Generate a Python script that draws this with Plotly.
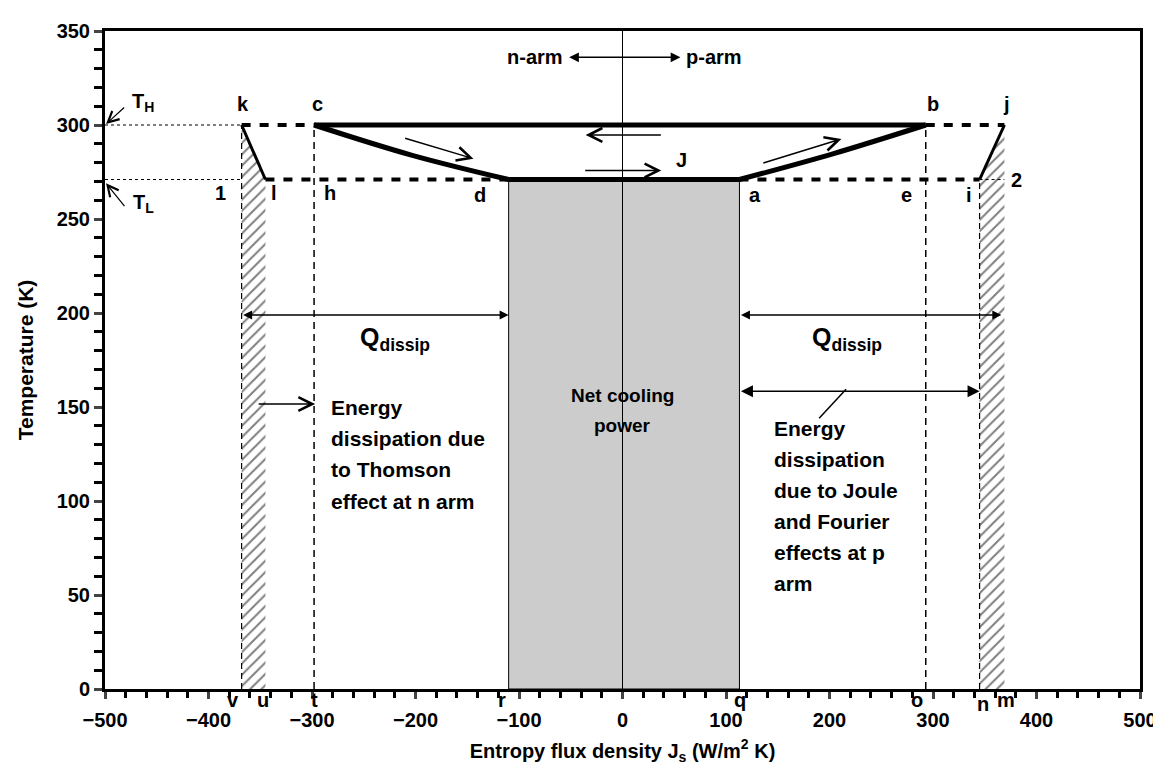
import plotly.graph_objects as go

# ---- data ----
T_H = 300
T_L = 271
# entropy-flux positions of the lettered points
x_v, x_u, x_t, x_r = -368, -345, -298, -110
x_q, x_o, x_n, x_m = 113, 293, 345, 369
# curved segments c->d (n arm) and a->b (p arm)
cd_x = [-298, -204, -110]
cd_T = [300, 284.0, 271]
ab_x = [113, 204, 293]
ab_T = [271, 284.8, 300]

x_ticks = [-500, -400, -300, -200, -100, 0, 100, 200, 300, 400, 500]
y_ticks = [0, 50, 100, 150, 200, 250, 300, 350]

point_labels = ["v", "u", "t", "r", "q", "o", "n", "m"]
point_label_x = [-376, -347, -298, -116, 113.5, 285, 348, 371]
point_label_shift = [-11, -11, -11, -11, -11, -11, -15, -11]

top_labels = ["k", "c", "b", "j", "1", "l", "h", "d", "a", "e", "i", "2"]
top_label_x = [-367, -295, 300, 371, -388, -336.5, -283, -138, 128, 274, 334.5, 381]
top_label_T = [311, 311, 311, 311, 264, 264, 264, 263, 263, 263, 263, 271]

left_text = ["Energy", "dissipation due", "to Thomson", "effect at n arm"]
left_text_T = [149.5, 133, 116.5, 100]
right_text = ["Energy", "dissipation", "due to Joule", "and Fourier", "effects at p", "arm"]
right_text_T = [138.5, 122, 105.5, 89, 72.5, 56]
center_text = ["Net cooling", "power"]
center_text_T = [156, 140]

FONT = "Liberation Sans, Arial, sans-serif"
NARROW = "Liberation Sans Narrow, Arial Narrow, Liberation Sans, sans-serif"
fig = go.Figure()

def line(xs, ys, width=1.0, dash="solid", color="black", shape="linear"):
    fig.add_trace(go.Scatter(x=xs, y=ys, mode="lines", hoverinfo="skip",
                             line=dict(color=color, width=width, dash=dash, shape=shape),
                             showlegend=False))

# net cooling power (grey block)
fig.add_trace(go.Scatter(x=[x_r, x_q, x_q, x_r, x_r], y=[0, 0, T_L, T_L, 0],
                         fill="toself", fillcolor="#cccccc", mode="lines",
                         line=dict(color="black", width=1), showlegend=False, hoverinfo="skip"))
# hatched dissipation strips
hatch = dict(shape="/", size=8, solidity=0.25, fgcolor="black", bgcolor="white")
fig.add_trace(go.Scatter(x=[x_v, x_u, x_u, x_v, x_v], y=[0, 0, T_L, T_H, 0],
                         fill="toself", fillcolor="white", fillpattern=hatch, mode="lines",
                         line=dict(width=0, color="rgba(0,0,0,0)"), showlegend=False, hoverinfo="skip"))
fig.add_trace(go.Scatter(x=[x_n, x_m, x_m, x_n, x_n], y=[0, 0, T_H, T_L, 0],
                         fill="toself", fillcolor="white", fillpattern=hatch, mode="lines",
                         line=dict(width=0, color="rgba(0,0,0,0)"), showlegend=False, hoverinfo="skip"))
# strip borders
line([x_v, x_v], [0, T_H], 1.2, "6px,4px")
line([x_n, x_n], [0, T_L], 1.2, "6px,4px")

# centre line
line([0, 0], [0, 350], 1)
# dashed verticals through c and b
line([x_t, x_t], [0, T_H], 1.5, "7px,5px")
line([x_o, x_o], [0, T_H], 1.5, "7px,5px")

# thin dotted reference lines
line([-500, x_v], [T_H, T_H], 1, "dot")
line([-500, x_v], [T_L, T_L], 1, "dot")
line([x_n, x_m], [T_L, T_L], 1, "dot")

# thick dashed isotherms
line([x_v, x_t], [T_H, T_H], 4, "9px,9px")
line([x_o, x_m], [T_H, T_H], 4, "9px,9px")
line([x_u, x_r], [T_L, T_L], 4, "9px,9px")
line([x_q, x_n], [T_L, T_L], 4, "9px,9px")

# cycle
line([x_t, x_o], [T_H, T_H], 5)
line([x_r, x_q], [T_L, T_L], 5)
line(cd_x, cd_T, 5, shape="spline")
line(ab_x, ab_T, 5, shape="spline")
line([x_v, x_u], [T_H, T_L], 3)
line([x_n, x_m], [T_L, T_H], 3)

# leader line for right text
line([216, 190], [159.5, 144], 1.5)

ann = []

def arrow(x0, y0, x1, y1, head=5, both=False, width=1.5, size=1.6):
    ann.append(dict(x=x1, y=y1, ax=x0, ay=y0, xref="x", yref="y", axref="x", ayref="y",
                    text="", showarrow=True, arrowhead=head, arrowsize=size,
                    arrowwidth=width, arrowcolor="black",
                    arrowside="end+start" if both else "end",
                    startarrowhead=head, startarrowsize=size))

def text(x, y, s, size=20, xanchor="center", yanchor="middle", yshift=0):
    ann.append(dict(x=x, y=y, xref="x", yref="y", text=s, showarrow=False,
                    xanchor=xanchor, yanchor=yanchor, yshift=yshift,
                    font=dict(family=FONT, size=size, color="black", weight="bold")))

arrow(-53, 336, 56, 336, head=2, both=True, width=1.5, size=1.3)
text(-85, 336, "n-arm")
text(88, 336, "p-arm")
arrow(38.5, 294.7, -35.6, 294.7, head=5, width=1.5, size=1.8)
arrow(-37.5, 275.8, 37.5, 275.8, head=5, width=1.5, size=1.8)
text(57, 281.5, "J")
arrow(-211.5, 293.2, -144, 282.1, head=5, width=1.5, size=1.8)
arrow(134.6, 279.5, 211.5, 292.6, head=5, width=1.5, size=1.8)

arrow(x_v, 199, x_r, 199, head=2, both=True, width=1.5, size=1.2)
arrow(x_q, 199, 366, 199, head=2, both=True, width=1.5, size=1.2)
text(-220, 186, "Q<sub>dissip</sub>", size=25)
text(217, 186, "Q<sub>dissip</sub>", size=25)

arrow(-353, 151.6, -297, 151.6, head=5, width=1.5, size=1.8)
arrow(x_q, 158.4, x_n, 158.4, head=2, both=True, width=1.5, size=1.6)

for s, T in zip(left_text, left_text_T):
    text(-284, T, s, size=21, xanchor="left")
for s, T in zip(right_text, right_text_T):
    text(144, T, s, size=21, xanchor="left")
for s, T in zip(center_text, center_text_T):
    text(0, T, s, size=19)

for s, xx, sh in zip(point_labels, point_label_x, point_label_shift):
    text(xx, 0, s, yanchor="middle", yshift=sh)
for s, xx, T in zip(top_labels, top_label_x, top_label_T):
    text(xx, T, s)

# T_H / T_L
arrow(-480, 310, -499, 300.5, head=5, width=1.2, size=1.8)
arrow(-480, 256, -499, 269, head=5, width=1.2, size=1.8)
text(-463, 312, "T<sub>H</sub>", size=20)
text(-463, 258, "T<sub>L</sub>", size=20)

fig.update_layout(
    width=1161, height=767,
    margin=dict(l=97, r=28, t=16, b=86),
    plot_bgcolor="white", paper_bgcolor="white",
    font=dict(family=FONT, size=20, color="black", weight="bold"),
    annotations=ann,
    showlegend=False,
)
fig.update_xaxes(range=[-500, 500], tickvals=x_ticks, ticks="outside", ticklen=7, tickwidth=2.5,
                 showline=True, linecolor="black", linewidth=3, mirror=True,
                 showgrid=False, zeroline=False,
                 minor=dict(dtick=20, ticks="outside", ticklen=6, tickwidth=2.5, tickcolor="black", showgrid=False),
                 tickfont=dict(family=FONT, size=20, color="black", weight="bold"),
                 ticklabelstandoff=4,
                 title=dict(text="Entropy flux density J<sub>s</sub> (W/m<sup>2</sup> K)",
                            font=dict(family=FONT, size=20, color="black", weight="bold"), standoff=14))
fig.update_yaxes(range=[0, 350], tickvals=y_ticks, ticks="outside", ticklen=8, tickwidth=2.5,
                 showline=True, linecolor="black", linewidth=3, mirror=True,
                 showgrid=False, zeroline=False,
                 minor=dict(dtick=10, ticks="outside", ticklen=8, tickwidth=2.5, tickcolor="black", showgrid=False),
                 tickfont=dict(family=FONT, size=20, color="black", weight="bold"),
                 title=dict(text="Temperature (K)",
                            font=dict(family=NARROW, size=21, color="black", weight="bold"), standoff=18))

fig.write_html("out.html")
